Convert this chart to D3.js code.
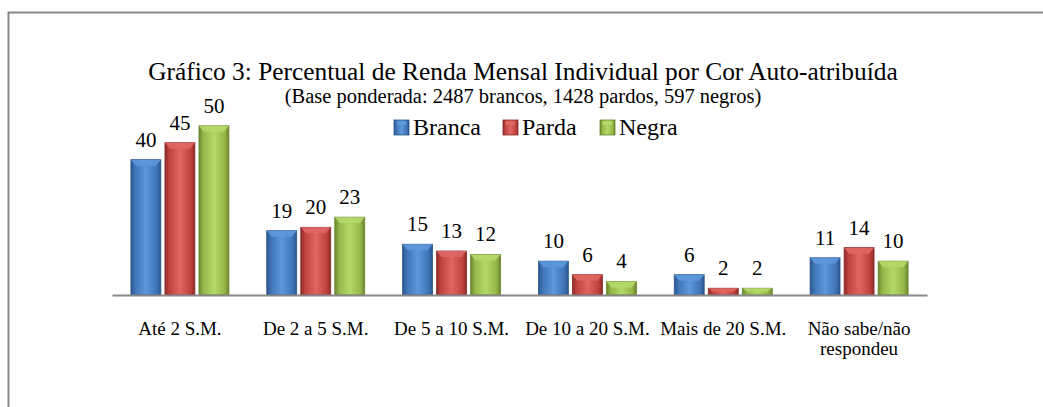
<!DOCTYPE html>
<html>
<head>
<meta charset="utf-8">
<script src="https://cdn.jsdelivr.net/npm/d3@7"></script>
<style>
  body { margin: 0; background: #fff; }
  svg text { font-family: 'Liberation Serif', 'Times New Roman', serif; fill: #000; }
</style>
</head>
<body>
<div id="chart"></div>
<script>
// Data
const categories = ['Até 2 S.M.', 'De 2 a 5 S.M.', 'De 5 a 10 S.M.', 'De 10 a 20 S.M.', 'Mais de 20 S.M.', 'Não sabe/não respondeu'];
const seriesNames = ['Branca', 'Parda', 'Negra'];
const branca = [40, 19, 15, 10, 6, 11];
const parda = [45, 20, 13, 6, 2, 14];
const negra = [50, 23, 12, 4, 2, 10];
const seriesValues = [branca, parda, negra];

const width = 1043, height = 407;
const margin = { left: 112, right: 116, top: 92, bottom: 112 };

// base, light, dark per series
const palette = [
    { base: '#3f74b6', light: '#5d97dc', dark: '#2b568d' },
    { base: '#c0423f', light: '#e06663', dark: '#8c2b29' },
    { base: '#94b748', light: '#b5d86a', dark: '#6a852f' }
];

const svg = d3.select('#chart').append('svg')
    .attr('width', width)
    .attr('height', height);

const defs = svg.append('defs');
palette.forEach((c, i) => {
    const g = defs.append('linearGradient').attr('id', 'bar' + i)
        .attr('x1', '0').attr('x2', '1').attr('y1', '0').attr('y2', '0');
    g.append('stop').attr('offset', '0%').attr('stop-color', c.dark);
    g.append('stop').attr('offset', '14%').attr('stop-color', c.base);
    g.append('stop').attr('offset', '50%').attr('stop-color', c.light);
    g.append('stop').attr('offset', '86%').attr('stop-color', c.base);
    g.append('stop').attr('offset', '100%').attr('stop-color', c.dark);
});

// outer frame (only top and left edges visible)
svg.append('path')
    .attr('d', `M8.5,${height} V12.5 H${width}`)
    .attr('fill', 'none')
    .attr('stroke', '#888')
    .attr('stroke-width', 2);

// titles
svg.append('text')
    .attr('x', 523).attr('y', 80)
    .attr('text-anchor', 'middle')
    .attr('font-size', 25.4)
    .text('Gráfico 3: Percentual de Renda Mensal Individual por Cor Auto-atribuída');

svg.append('text')
    .attr('x', 523).attr('y', 103)
    .attr('text-anchor', 'middle')
    .attr('font-size', 20.5)
    .text('(Base ponderada: 2487 brancos, 1428 pardos, 597 negros)');

// scales
const x0 = d3.scaleBand()
    .domain(categories)
    .range([margin.left, width - margin.right]);

const x1 = d3.scaleBand()
    .domain(seriesNames)
    .range([0, 98])
    .paddingInner(0.12);

const y = d3.scaleLinear()
    .domain([0, 60])
    .range([height - margin.bottom, margin.top]);

const barOffset = (x0.bandwidth() - x1.range()[1]) / 2;

// bars
const groups = svg.append('g').attr('class', 'bars')
    .selectAll('g')
    .data(seriesNames)
    .join('g');

groups.each(function (name, si) {
    const g = d3.select(this);
    const vals = seriesValues[si];
    const bx = (d, i) => x0(categories[i]) + barOffset + x1(name);

    g.selectAll('rect.main')
        .data(vals)
        .join('rect')
        .attr('class', 'main')
        .attr('x', bx)
        .attr('y', d => y(d))
        .attr('width', x1.bandwidth())
        .attr('height', d => y(0) - y(d))
        .attr('fill', `url(#bar${si})`)
        .attr('stroke', palette[si].dark)
        .attr('stroke-width', 0.8);

    // top highlight bevel
    g.selectAll('path.bevel')
        .data(vals)
        .join('path')
        .attr('class', 'bevel')
        .attr('d', (d, i) => {
            const l = bx(d, i), w = x1.bandwidth(), t = y(d);
            const h = Math.min(6, (y(0) - t) / 2);
            return `M${l},${t}H${l + w}L${l + w - 5},${t + h}H${l + 5}Z`;
        })
        .attr('fill', palette[si].light)
        .attr('opacity', 0.9);

    // value labels
    g.selectAll('text')
        .data(vals)
        .join('text')
        .attr('x', (d, i) => bx(d, i) + x1.bandwidth() / 2)
        .attr('y', d => y(d) - 13)
        .attr('text-anchor', 'middle')
        .attr('font-size', 21)
        .text(d => d);
});

// x axis
const xAxis = svg.append('g')
    .attr('transform', `translate(0,${y(0)})`)
    .call(d3.axisBottom(x0).tickSize(0).tickFormat(''));
xAxis.select('.domain').attr('stroke', '#888').attr('stroke-width', 2);

const labelWrap = { 'Não sabe/não respondeu': ['Não sabe/não', 'respondeu'] };
svg.append('g').selectAll('text')
    .data(categories)
    .join('text')
    .attr('x', d => x0(d) + x0.bandwidth() / 2)
    .attr('y', 335)
    .attr('text-anchor', 'middle')
    .attr('font-size', 19)
    .each(function (d) {
        const lines = labelWrap[d] || [d];
        d3.select(this).selectAll('tspan')
            .data(lines)
            .join('tspan')
            .attr('x', x0(d) + x0.bandwidth() / 2)
            .attr('dy', (l, i) => i ? 20 : 0)
            .text(l => l);
    });

// legend
const legendX = [394, 503, 600];
const legend = svg.append('g')
    .selectAll('g')
    .data(seriesNames)
    .join('g')
    .attr('transform', (d, i) => `translate(${legendX[i]},120)`);

legend.append('rect')
    .attr('width', 15).attr('height', 15)
    .attr('fill', (d, i) => `url(#bar${i})`)
    .attr('stroke', (d, i) => palette[i].dark)
    .attr('stroke-width', 0.8);

legend.append('rect')
    .attr('x', 3).attr('y', 1).attr('width', 9).attr('height', 4)
    .attr('fill', (d, i) => palette[i].light);

legend.append('text')
    .attr('x', 19).attr('y', 15)
    .attr('font-size', 24)
    .text(d => d);
</script>
</body>
</html>
